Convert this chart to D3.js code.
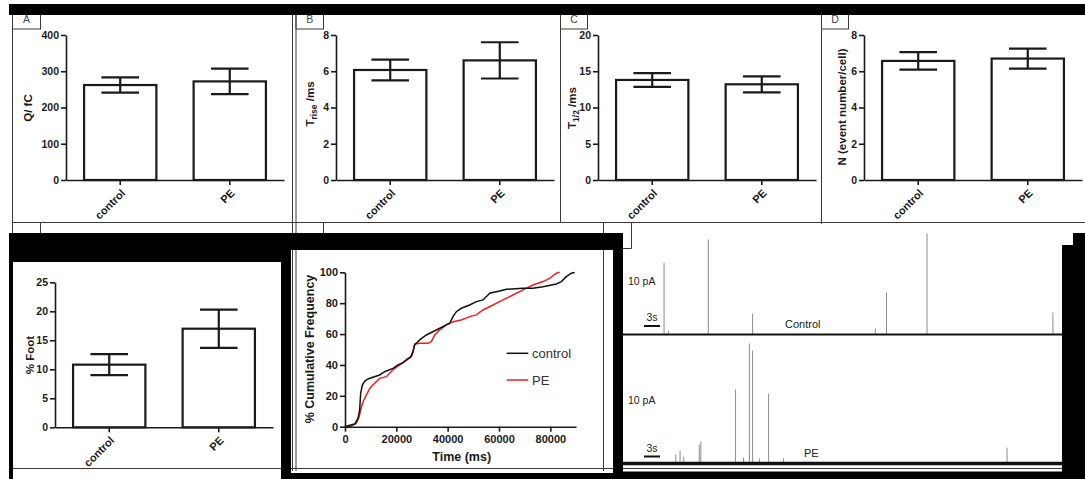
<!DOCTYPE html>
<html>
<head>
<meta charset="utf-8">
<script src="https://cdn.jsdelivr.net/npm/d3@7"></script>
<style>
  html, body { margin: 0; padding: 0; background: #fff; }
  svg { display: block; }
  text { font-family: "Liberation Sans", Arial, sans-serif; }
</style>
</head>
<body>
<svg id="fig" width="1085" height="479"></svg>
<script>
// ---- data ----
const groups = ["control", "PE"];

// A: quantal charge (fC)
const chargeMean = [262, 272];
const chargeSem = [21, 35];
const chargeTicks = [0, 100, 200, 300, 400];

// B: rise time (ms)
const riseMean = [6.07, 6.6];
const riseSem = [0.57, 1.0];
const riseTicks = [0, 2, 4, 6, 8];

// C: half width (ms)
const halfMean = [13.8, 13.2];
const halfSem = [0.95, 1.1];
const halfTicks = [0, 5, 10, 15, 20];

// D: events per cell
const eventMean = [6.57, 6.7];
const eventSem = [0.48, 0.55];
const eventTicks = [0, 2, 4, 6, 8];

// E: percentage of events with foot
const footMean = [10.8, 17.0];
const footSem = [1.8, 3.3];
const footTicks = [0, 5, 10, 15, 20, 25];

// F: cumulative frequency of event times
const controlTime = [0, 1170, 3770, 5060, 5710, 6100, 6750, 7660, 8960, 10900, 13500, 15450, 18700, 20650, 22600, 24550, 25840, 26500, 27140, 27800, 29100, 31700, 35580, 39480, 40780, 42080, 43380, 45320, 48570, 51170, 53770, 55710, 56360, 60260, 62860, 69350, 73250, 77140, 82340, 84290, 86230, 88180, 89480];
const controlPct = [0, 0.6, 1.7, 5.4, 10.8, 21.6, 27, 29.4, 30.9, 32, 33.5, 35.6, 37.8, 40, 41.5, 44.3, 45.4, 48.6, 52.9, 54, 56.2, 59.4, 62.6, 65.9, 67, 71.3, 74.5, 76.7, 78.8, 81, 82.1, 85.3, 86.4, 87.9, 89, 89.6, 89.6, 90.7, 92.4, 94, 97.2, 99.4, 99.8];
const peTime = [0, 2470, 4420, 5450, 6100, 7010, 8310, 9610, 11560, 13510, 16100, 17400, 19350, 22600, 25190, 26490, 27140, 29090, 32340, 33640, 34940, 36880, 39480, 42080, 45320, 48570, 51170, 53770, 57660, 61560, 65450, 69350, 73250, 77140, 79740, 82340, 83640];
const pePct = [0, 0.4, 2.2, 6, 10.8, 16.2, 20.5, 24.8, 28.1, 31.3, 32.4, 34.6, 37.8, 41.5, 44.3, 48.6, 53.6, 54, 54, 55.1, 59.4, 62.6, 65.9, 68, 69.1, 71.3, 72.4, 75.6, 78.8, 82.1, 85.3, 88.6, 91.8, 94, 96.1, 99.4, 100];
const timeTicks = [0, 20000, 40000, 60000, 80000];
const pctTicks = [0, 20, 40, 60, 80, 100];

// G: amperometric spikes (time s, amplitude pA)
const controlSpikeT = [7.7, 8.5, 16.0, 24.3, 47.3, 49.4, 57.0, 80.6];
const controlSpikeAmp = [24, 1.3, 31.7, 7, 2, 14, 33.7, 7.3];
const peSpikeT = [9.9, 10.7, 11.4, 14.3, 14.6, 21.1, 22.6, 23.7, 24.3, 25.6, 27.3, 30.1, 72.0];
const peSpikeAmp = [3, 4.3, 2.3, 6.3, 7.3, 24.7, 2, 40, 37.7, 1.7, 23.3, 1.7, 5.3];
const traceDuration = 82.3;

// ---- drawing ----
const svg = d3.select("#fig");
svg.append("rect").attr("width", 1085).attr("height", 479).attr("fill", "#fff");

const ink = "#1a1a1a";
const frame = "#3a3a3a";

function styleAxis(sel, size) {
  sel.select(".domain").attr("stroke", ink).attr("stroke-width", 1.6);
  sel.selectAll(".tick line").attr("stroke", ink).attr("stroke-width", 1.6);
  sel.selectAll(".tick text").attr("fill", ink).attr("font-weight", "bold").attr("font-size", size || 10.5)
     .attr("font-family", '"Liberation Sans", Arial, sans-serif');
}

function barPanel(o) {
  const g = svg.append("g");
  const x = d3.scaleBand().domain(groups).range([o.left, o.left + 218])
    .paddingInner(0.34).paddingOuter(0.165);
  const y = d3.scaleLinear().domain([0, o.ticks[o.ticks.length - 1]]).range([o.bottom, o.bottom - 145]);

  const rows = groups.map((k, i) => ({ k, m: o.mean[i], s: o.sem[i] }));

  g.selectAll("rect.bar").data(rows).join("rect").attr("class", "bar")
    .attr("x", d => x(d.k)).attr("width", x.bandwidth())
    .attr("y", d => y(d.m)).attr("height", d => y(0) - y(d.m))
    .attr("fill", "#fff").attr("stroke", ink).attr("stroke-width", 2.2);

  const cap = x.bandwidth() * 0.26;
  const eb = g.selectAll("g.err").data(rows).join("g").attr("class", "err")
    .attr("stroke", ink).attr("stroke-width", 2.2);
  eb.append("line").attr("x1", d => x(d.k) + x.bandwidth() / 2).attr("x2", d => x(d.k) + x.bandwidth() / 2)
    .attr("y1", d => y(d.m - d.s)).attr("y2", d => y(d.m + d.s));
  eb.append("line").attr("x1", d => x(d.k) + x.bandwidth() / 2 - cap).attr("x2", d => x(d.k) + x.bandwidth() / 2 + cap)
    .attr("y1", d => y(d.m + d.s)).attr("y2", d => y(d.m + d.s));
  eb.append("line").attr("x1", d => x(d.k) + x.bandwidth() / 2 - cap).attr("x2", d => x(d.k) + x.bandwidth() / 2 + cap)
    .attr("y1", d => y(d.m - d.s)).attr("y2", d => y(d.m - d.s));

  const ya = g.append("g").attr("transform", `translate(${o.left},0)`)
    .call(d3.axisLeft(y).tickValues(o.ticks).tickSize(5).tickPadding(2).tickSizeOuter(0));
  styleAxis(ya);
  const xa = g.append("g").attr("transform", `translate(0,${o.bottom})`)
    .call(d3.axisBottom(x).tickSize(5).tickSizeOuter(0));
  styleAxis(xa, 11);
  xa.selectAll(".tick text").attr("y", 0).attr("dy", "0.35em").attr("x", 0)
    .attr("text-anchor", "end").attr("transform", "translate(3,11) rotate(-45)");

  const t = g.append("text").attr("transform", `translate(${o.titleX},${o.titleY}) rotate(-90)`)
    .attr("text-anchor", "middle").attr("dy", "0.35em")
    .attr("font-weight", "bold").attr("font-size", 11.5).attr("fill", ink);
  if (o.sub) {
    t.append("tspan").text(o.title);
    t.append("tspan").attr("dy", 3).attr("font-size", 8.5).text(o.sub);
    t.append("tspan").attr("dy", -3).text(o.rest);
  } else {
    t.text(o.title);
  }
}

// ---- frame lines (row 1) ----
const lines = svg.append("g").attr("stroke", frame).attr("stroke-width", 1).attr("fill", "none");
function ln(x1, y1, x2, y2) { lines.append("line").attr("x1", x1).attr("y1", y1).attr("x2", x2).attr("y2", y2); }
ln(12.5, 14, 12.5, 234);
ln(292.5, 14, 292.5, 471);
ln(296, 14, 296, 471);
ln(560.5, 14, 560.5, 222.5);
ln(821.5, 14, 821.5, 224);
ln(12, 222.5, 1085, 222.5);
// panel letter boxes
[[12.5, 40.5, "A"], [296, 323.5, "B"], [560.5, 587.5, "C"], [821.5, 848.5, "D"]].forEach(([a, b, s]) => {
  lines.append("rect").attr("x", a).attr("y", 14).attr("width", b - a).attr("height", 15);
  svg.append("text").attr("x", (a + b) / 2).attr("y", 23).attr("text-anchor", "middle")
    .attr("font-size", 10.5).attr("fill", "#444").text(s);
});
ln(40.5, 222.5, 40.5, 234);
ln(323.5, 222.5, 323.5, 234);
ln(603.5, 222.5, 603.5, 471);
ln(631.5, 222.5, 631.5, 248.5);
ln(603.5, 248.5, 631.5, 248.5);
ln(13, 468.5, 281, 468.5);
ln(291, 468.5, 613, 468.5);
ln(623, 468.5, 1062, 468.5);

// ---- bar panels ----
barPanel({ left: 66, bottom: 180, ticks: chargeTicks, mean: chargeMean, sem: chargeSem, title: "Q/ fC", titleX: 28, titleY: 108 });
barPanel({ left: 336, bottom: 180, ticks: riseTicks, mean: riseMean, sem: riseSem, title: "T", sub: "rise", rest: " /ms", titleX: 310, titleY: 104 });
barPanel({ left: 598, bottom: 180, ticks: halfTicks, mean: halfMean, sem: halfSem, title: "T", sub: "1/2", rest: " /ms", titleX: 572, titleY: 108 });
barPanel({ left: 864, bottom: 180, ticks: eventTicks, mean: eventMean, sem: eventSem, title: "N (event number/cell)", titleX: 842, titleY: 107 });
barPanel({ left: 55, bottom: 427.3, ticks: footTicks, mean: footMean, sem: footSem, title: "% Foot", titleX: 30, titleY: 355 });

// ---- F: cumulative frequency ----
{
  const g = svg.append("g");
  const fx = d3.scaleLinear().domain([0, 90000]).range([345, 576]);
  const fy = d3.scaleLinear().domain([0, 100]).range([426.7, 272.3]);
  const line = d3.line().x(d => fx(d[0])).y(d => fy(d[1]));
  g.append("path").datum(d3.zip(peTime, pePct)).attr("d", line)
    .attr("fill", "none").attr("stroke", "#f01e1e").attr("stroke-width", 1.5);
  g.append("path").datum(d3.zip(controlTime, controlPct)).attr("d", line)
    .attr("fill", "none").attr("stroke", "#111").attr("stroke-width", 1.5);

  const ya = g.append("g").attr("transform", "translate(345,0)")
    .call(d3.axisLeft(fy).tickValues(pctTicks).tickSize(5).tickPadding(2).tickSizeOuter(0));
  styleAxis(ya, 11);
  const xa = g.append("g").attr("transform", "translate(0,426.7)")
    .call(d3.axisBottom(fx).tickValues(timeTicks).tickFormat(d3.format("d")).tickSize(5).tickPadding(4).tickSizeOuter(0));
  styleAxis(xa, 11);

  g.append("text").attr("transform", "translate(310,349) rotate(-90)").attr("text-anchor", "middle")
    .attr("dy", "0.35em").attr("font-weight", "bold").attr("font-size", 12.5).attr("fill", ink)
    .text("% Cumulative Frequency");
  g.append("text").attr("x", 461.7).attr("y", 461).attr("text-anchor", "middle")
    .attr("font-weight", "bold").attr("font-size", 12.5).attr("fill", ink).text("Time (ms)");

  const legend = [["control", "#111"], ["PE", "#f01e1e"]];
  legend.forEach(([name, c], i) => {
    const yy = 353.3 + i * 26.7;
    g.append("line").attr("x1", 506.7).attr("x2", 528.3).attr("y1", yy).attr("y2", yy)
      .attr("stroke", c).attr("stroke-width", 1.5);
    g.append("text").attr("x", 532).attr("y", yy).attr("dy", "0.36em")
      .attr("font-size", 13).attr("fill", "#333").text(name);
  });
}

// ---- G: amperometric traces ----
{
  const g = svg.append("g");
  const tx = d3.scaleLinear().domain([0, traceDuration]).range([623, 1062]);
  const amp = d3.scaleLinear().domain([0, 40]).range([0, 120]);
  const traces = [
    { base: 334.5, t: controlSpikeT, a: controlSpikeAmp, width: 2.2, name: "Control", nameX: 785, labelY: 285, barY: 326 },
    { base: 463.5, t: peSpikeT, a: peSpikeAmp, width: 3.4, name: "PE", nameX: 804, labelY: 404, barY: 456.5 }
  ];
  traces.forEach(tr => {
    const spikes = d3.zip(tr.t, tr.a);
    g.selectAll(null).data(spikes).join("line")
      .attr("x1", d => tx(d[0])).attr("x2", d => tx(d[0]))
      .attr("y1", tr.base).attr("y2", d => tr.base - amp(d[1]))
      .attr("stroke", "#8c8c8c").attr("stroke-width", 1);
    g.append("line").attr("x1", tx(0)).attr("x2", tx(traceDuration)).attr("y1", tr.base).attr("y2", tr.base)
      .attr("stroke", "#111").attr("stroke-width", tr.width);
    // 3 s scale bar
    const s0 = 3.94;
    g.append("line").attr("x1", tx(s0)).attr("x2", tx(s0 + 3)).attr("y1", tr.barY).attr("y2", tr.barY)
      .attr("stroke", "#111").attr("stroke-width", 2);
    g.append("text").attr("x", tx(s0 + 1.5)).attr("y", tr.barY - 5).attr("text-anchor", "middle")
      .attr("font-size", 10.5).attr("fill", "#222").text("3s");
    g.append("text").attr("x", 628).attr("y", tr.labelY).attr("font-size", 10.5).attr("fill", "#222").text("10 pA");
    g.append("text").attr("x", tr.nameX).attr("y", tr.base - 7).attr("font-size", 11).attr("fill", "#222").text(tr.name);
  });
}

// ---- black masking bands ----
const black = svg.append("g").attr("fill", "#000");
function blk(x, y, w, h) { black.append("rect").attr("x", x).attr("y", y).attr("width", w).attr("height", h); }
blk(9, 4, 1076, 11);          // top band
blk(9, 233, 272, 29);         // above E
blk(281, 233, 342, 17);       // above F
blk(9, 233, 4, 246);          // left edge of E
blk(281, 233, 10, 246);       // between E and F
blk(613, 233, 10, 246);       // between F and G
blk(281, 473, 342, 6);        // under F
blk(623, 471.5, 439, 7.5);    // under G
blk(1062, 245, 23, 234);      // right edge
blk(1073, 233, 12, 12);
</script>
</body>
</html>
